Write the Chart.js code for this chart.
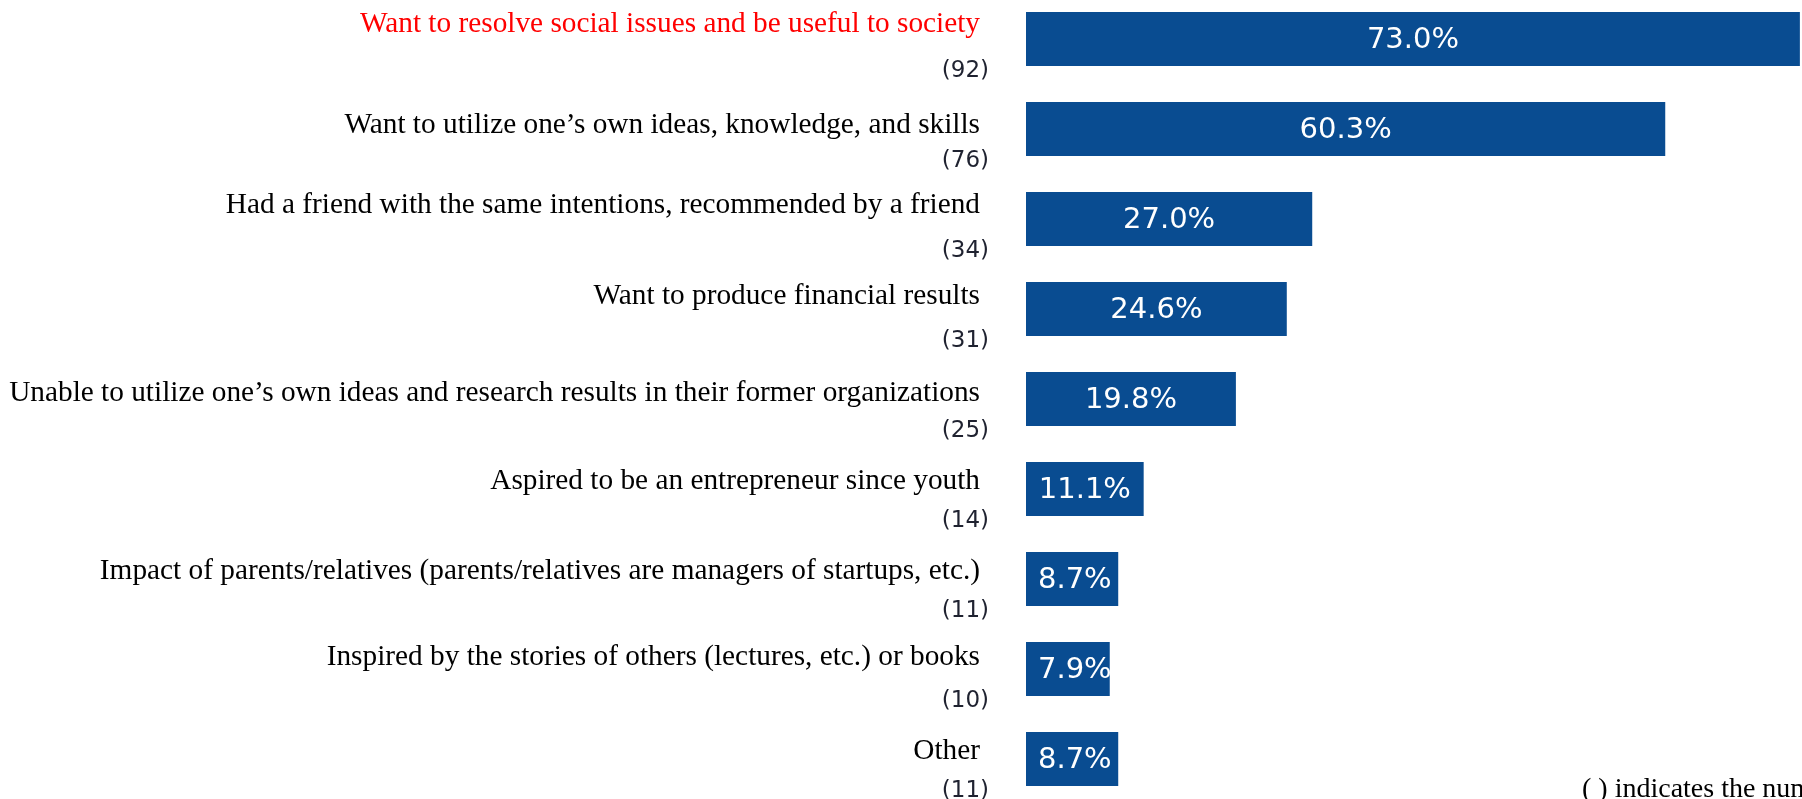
<!DOCTYPE html>
<html>
<head>
<meta charset="utf-8">
<script src="https://cdn.jsdelivr.net/npm/chart.js@4/dist/chart.umd.min.js"></script>
<style>
    html, body { margin: 0; padding: 0; background: #fff; overflow: hidden; }
    #wrap { position: absolute; left: 0; top: -6px; width: 1802px; height: 810px; }
</style>
</head>
<body>
<div id="wrap"><canvas id="motiveChart" width="1802" height="810"></canvas></div>
<script>
// Reasons for founding a startup, share of respondents (%) and respondent counts
const categories = [
    "Want to resolve social issues and be useful to society",
    "Want to utilize one\u2019s own ideas, knowledge, and skills",
    "Had a friend with the same intentions, recommended by a friend",
    "Want to produce financial results",
    "Unable to utilize one\u2019s own ideas and research results in their former organizations",
    "Aspired to be an entrepreneur since youth",
    "Impact of parents/relatives (parents/relatives are managers of startups, etc.)",
    "Inspired by the stories of others (lectures, etc.) or books",
    "Other",
];
const percents = [73.0, 60.3, 27.0, 24.6, 19.8, 11.1, 8.7, 7.9, 8.7];
const counts = [92, 76, 34, 31, 25, 14, 11, 10, 11];
const highlighted = [0];
const footnote = "( ) indicates the number of respondents";

// small vertical nudges for the category text baselines, relative to the bar centre
const labelNudge = [-7, 4, -6, -5, 2, 0, 0, -4, 0];

const BAR_COLOR = "#094c91";
const LABEL_RIGHT = 980;
const COUNT_RIGHT = 989;

const sideLabels = {
    id: "sideLabels",
    afterDatasetsDraw(chart) {
        const { ctx } = chart;
        const yScale = chart.scales.y;
        const xScale = chart.scales.x;
        const meta = chart.getDatasetMeta(0);
        ctx.save();
        categories.forEach((name, i) => {
            const yc = yScale.getPixelForValue(i);

            ctx.font = "29.3px 'Liberation Serif', 'Times New Roman', serif";
            ctx.fillStyle = highlighted.includes(i) ? "#ff0000" : "#000000";
            ctx.textAlign = "right";
            ctx.textBaseline = "alphabetic";
            ctx.fillText(name, LABEL_RIGHT, yc + labelNudge[i]);

            ctx.font = "23px 'DejaVu Sans', Verdana, sans-serif";
            ctx.fillStyle = "#1f2230";
            ctx.textBaseline = "middle";
            ctx.fillText("(" + counts[i] + ")", COUNT_RIGHT, yc + 32);

            // value inside the bar, kept clear of the left edge on short bars
            const bar = meta.data[i];
            const left = xScale.getPixelForValue(0);
            const text = percents[i].toFixed(1) + "%";
            ctx.font = "29px 'DejaVu Sans', Verdana, sans-serif";
            const w = ctx.measureText(text).width;
            const cx = Math.max((left + bar.x) / 2, left + 12 + w / 2);
            ctx.fillStyle = "#ffffff";
            ctx.textAlign = "center";
            ctx.fillText(text, cx, bar.y + 1);
        });

        ctx.font = "28px 'Liberation Serif', 'Times New Roman', serif";
        ctx.fillStyle = "#000000";
        ctx.textAlign = "left";
        ctx.textBaseline = "alphabetic";
        ctx.fillText(footnote, 1582, 803);
        ctx.restore();
    },
};

new Chart(document.getElementById("motiveChart"), {
    type: "bar",
    data: {
        labels: categories,
        datasets: [{
            data: percents,
            backgroundColor: BAR_COLOR,
            borderWidth: 0,
            barPercentage: 0.6,
            categoryPercentage: 1.0,
        }],
    },
    options: {
        indexAxis: "y",
        responsive: false,
        devicePixelRatio: 1,
        animation: false,
        layout: { padding: { left: 1026, right: 0, top: 0, bottom: 0 } },
        plugins: { legend: { display: false }, tooltip: { enabled: false } },
        scales: {
            x: { display: false, min: 0, max: 73.2 },
            y: { display: false },
        },
    },
    plugins: [sideLabels],
});
</script>
</body>
</html>
